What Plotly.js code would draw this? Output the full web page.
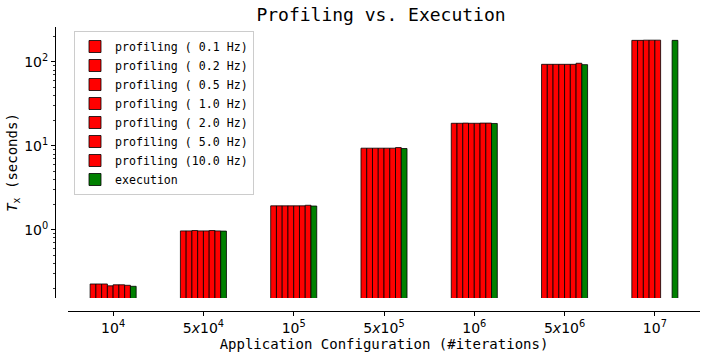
<!DOCTYPE html>
<html>
<head>
<meta charset="utf-8">
<script src="https://cdn.plot.ly/plotly-3.0.1.min.js"></script>
<style>html,body{margin:0;padding:0;background:#fff;}#chart{width:706px;height:358px;}</style>
</head>
<body>
<div id="chart"></div>
<script>
const categories = ['1e4', '5e4', '1e5', '5e5', '1e6', '5e6', '1e7'];
const tickLabels = ['10<sup>4</sup>', '5<i>x</i>10<sup>4</sup>', '10<sup>5</sup>', '5<i>x</i>10<sup>5</sup>', '10<sup>6</sup>', '5<i>x</i>10<sup>6</sup>', '10<sup>7</sup>'];
const seriesNames = ['profiling ( 0.1 Hz)', 'profiling ( 0.2 Hz)', 'profiling ( 0.5 Hz)', 'profiling ( 1.0 Hz)', 'profiling ( 2.0 Hz)', 'profiling ( 5.0 Hz)', 'profiling (10.0 Hz)', 'execution'];
const prof01 = [0.226, 0.970, 1.93, 9.39, 18.6, 93.8, 181];
const prof02 = [0.226, 0.970, 1.93, 9.39, 18.6, 93.8, 181];
const prof05 = [0.226, 0.980, 1.93, 9.39, 18.7, 93.8, 182];
const prof10 = [0.215, 0.970, 1.93, 9.39, 18.6, 93.8, 182];
const prof20 = [0.221, 0.970, 1.93, 9.39, 18.6, 93.8, 182];
const prof50 = [0.221, 0.980, 1.93, 9.39, 18.7, 93.8, null];
const prof100 = [0.218, 0.970, 1.96, 9.55, 18.7, 96.6, null];
const execution = [0.212, 0.965, 1.92, 9.30, 18.5, 93.0, 181];
const seriesValues = [prof01, prof02, prof05, prof10, prof20, prof50, prof100, execution];
const seriesColors = ['#ff0000', '#ff0000', '#ff0000', '#ff0000', '#ff0000', '#ff0000', '#ff0000', '#008000'];
const yMajorVals = [1, 10, 100];
const yMajorText = ['10<sup>0</sup>', '10<sup>1</sup>', '10<sup>2</sup>'];
const yMinorVals = [0.2,0.3,0.4,0.5,0.6,0.7,0.8,0.9,2,3,4,5,6,7,8,9,20,30,40,50,60,70,80,90,200];

const nb = s => s.replace(/ /g, '\u00a0');
const traces = seriesValues.map((vals, i) => ({
  type: 'bar',
  x: categories,
  y: vals,
  name: nb(seriesNames[i]),
  marker: {color: seriesColors[i], line: {color: '#000', width: 0.8}},
  hoverinfo: 'skip'
}));

const W = 706, H = 358;
const L = 55, R = 6, T = 27, B = 47;
const pw = W - L - R, ph = H - T - B;
const layout = {
  width: W, height: H,
  margin: {l: L, r: R, t: T, b: B, pad: 0},
  paper_bgcolor: '#fff', plot_bgcolor: '#fff',
  barmode: 'group', bargap: 0.49, bargroupgap: 0,
  showlegend: true,
  title: {text: 'Profiling vs. Execution', font: {family: 'DejaVu Sans Mono', size: 18, color: '#000'}, x: 381 / W, xanchor: 'center', y: 1 - 15 / H, yanchor: 'middle'},
  font: {family: 'DejaVu Sans', color: '#000'},
  xaxis: {
    domain: [13 / pw, 1],
    anchor: 'free', position: 0,
    type: 'category',
    categoryarray: categories, categoryorder: 'array',
    range: [-0.5, 6.5],
    tickvals: categories, ticktext: tickLabels,
    ticks: 'outside', ticklen: 4, tickwidth: 1, tickcolor: '#000',
    showline: true, linecolor: '#000', linewidth: 1,
    showgrid: false, zeroline: false,
    tickfont: {family: 'DejaVu Sans', size: 14, color: '#000'},
    title: {text: 'Application Configuration (#iterations)', font: {family: 'DejaVu Sans Mono', size: 14, color: '#000'}, standoff: 3}
  },
  yaxis: {
    domain: [13 / ph, 1],
    anchor: 'free', position: 0,
    type: 'log',
    range: [-0.813, 2.417],
    tickvals: yMajorVals, ticktext: yMajorText,
    ticks: 'outside', ticklen: 4, tickwidth: 1, tickcolor: '#000',
    minor: {tickvals: yMinorVals, ticks: 'outside', ticklen: 2, tickwidth: 0.8, tickcolor: '#000', showgrid: false},
    showline: true, linecolor: '#000', linewidth: 1,
    showgrid: false, zeroline: false,
    tickfont: {family: 'DejaVu Sans', size: 14, color: '#000'},
    title: {text: '<i>T</i><sub>x</sub>\u00a0(seconds)', font: {family: 'DejaVu Sans Mono', size: 14, color: '#000'}, standoff: 2}
  },
  legend: {
    x: 19 / pw, y: 1 - 4 / ph, xanchor: 'left', yanchor: 'top',
    bgcolor: '#fff', bordercolor: '#cccccc', borderwidth: 1,
    font: {family: 'DejaVu Sans Mono', size: 11.6, color: '#000'},
    tracegroupgap: 0, itemwidth: 30
  }
};
Plotly.newPlot('chart', traces, layout, {displayModeBar: false, staticPlot: true});
</script>
</body>
</html>
